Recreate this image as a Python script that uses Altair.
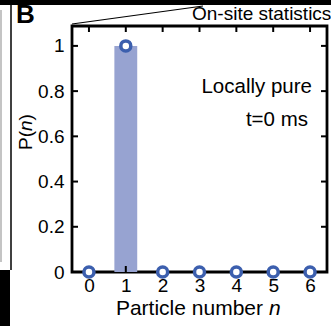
import altair as alt
import pandas as pd

# ---- data ----
n_values = [0, 1, 2, 3, 4, 5, 6]
p_values = [0.0, 1.0, 0.0, 0.0, 0.0, 0.0, 0.0]
y_ticks = [0.2, 0.4, 0.6, 0.8, 1.0]
x_ticks = [0, 1, 2, 3, 4, 5, 6]

df = pd.DataFrame({"n": n_values, "P": p_values})
df_yt = pd.DataFrame({"t": y_ticks})
df_xt = pd.DataFrame({"t": x_ticks})
one = pd.DataFrame({"a": [0]})

W, H = 255, 246
XD = [-0.46, 6.46]
YD = [0, 1.088]
FONT = "Liberation Sans"
BAR_HALF = 0.31

xs = alt.Scale(domain=XD, nice=False, zero=False)
ys = alt.Scale(domain=YD, nice=False, zero=False)

base = alt.Chart(df)

bars = base.transform_calculate(
    lo="datum.n - %f" % BAR_HALF, hi="datum.n + %f" % BAR_HALF
).mark_bar(color="#97a3d1").encode(
    x=alt.X("lo:Q", scale=xs, axis=alt.Axis(
        values=x_ticks, format="d", title=None, labelFont=FONT, labelFontSize=19,
        labelColor="black", labelPadding=4, ticks=False, domain=False, grid=False)),
    x2="hi:Q",
    y=alt.Y("P:Q", scale=ys, axis=alt.Axis(
        values=[0, 0.2, 0.4, 0.6, 0.8, 1.0], title=None, labelFont=FONT,
        labelFontSize=19, labelColor="black", labelPadding=8, ticks=False,
        domain=False, grid=False,
        labelExpr="datum.value == 0 ? '0' : datum.value == 1 ? '1' : format(datum.value, '.1f')")),
    y2=alt.datum(0),
)

# inward ticks
tk = dict(color="black", strokeWidth=2)
left_t = alt.Chart(df_yt).mark_rule(**tk).encode(
    y=alt.Y("t:Q", scale=ys), x=alt.value(0), x2=alt.value(6))
right_t = alt.Chart(df_yt).mark_rule(**tk).encode(
    y=alt.Y("t:Q", scale=ys), x=alt.value(W), x2=alt.value(W - 6))
top_t = alt.Chart(df_xt).mark_rule(**tk).encode(
    x=alt.X("t:Q", scale=xs), y=alt.value(0), y2=alt.value(6))
bot_t = alt.Chart(df_xt).mark_rule(**tk).encode(
    x=alt.X("t:Q", scale=xs), y=alt.value(H), y2=alt.value(H - 6))

points = base.mark_point(
    shape="circle", filled=False, fill="white", fillOpacity=1,
    stroke="#3c5fae", strokeWidth=3.5, size=100, opacity=1
).encode(x=alt.X("n:Q", scale=xs), y=alt.Y("P:Q", scale=ys))

# annotations
def txt(s, x, y, size, align="left", baseline="middle", style="normal",
        weight="normal", angle=0):
    kw = dict(text=s, font=FONT, fontSize=size, align=align, baseline=baseline,
              fontStyle=style, fontWeight=weight, color="black")
    if angle:
        kw["angle"] = angle
    return alt.Chart(one).mark_text(**kw).encode(x=alt.value(x), y=alt.value(y))

locally = txt("Locally pure", 240, 61, 20.5, align="right")
tms = txt("t=0 ms", 236, 94, 20.5, align="right")
xlab1 = txt("Particle number", 191, 283, 21, align="right")
xlab2 = txt("n", 197, 283, 21, align="left", style="italic")
ylab1 = txt("P(", -40, 124, 19, align="left", baseline="alphabetic", angle=270)
ylab2 = txt("n", -40, 105, 19, align="left", baseline="alphabetic", angle=270, style="italic")
ylab3 = txt(")", -40, 94.5, 19, align="left", baseline="alphabetic", angle=270)
blabel = txt("B", -56, -3, 26, align="left", baseline="alphabetic", weight="bold")
onsite = txt("On-site statistics", 120, -6, 19, align="left", baseline="alphabetic")

topband = alt.Chart(one).mark_rect(color="black").encode(
    x=alt.value(-72), x2=alt.value(259), y=alt.value(-26), y2=alt.value(-21))
vline = alt.Chart(one).mark_rule(color="black", strokeWidth=1.5).encode(
    x=alt.value(-61), y=alt.value(-22), y2=alt.value(244))
block = alt.Chart(one).mark_rect(color="black").encode(
    x=alt.value(-72), x2=alt.value(-62), y=alt.value(244), y2=alt.value(300))
gline = alt.Chart(one).mark_rule(color="#b0b0b0", strokeWidth=1.5).encode(
    x=alt.value(-71), y=alt.value(-16), y2=alt.value(236))
diag = alt.Chart(one).mark_rule(color="black", strokeWidth=1.2).encode(
    x=alt.value(0), y=alt.value(-2), x2=alt.value(131), y2=alt.value(-20))

chart = alt.layer(
    bars, left_t, right_t, top_t, bot_t, points,
    locally, tms, xlab1, xlab2, ylab1, ylab2, ylab3, blabel, onsite,
    topband, vline, block, gline, diag
).resolve_scale(x="shared", y="shared").properties(
    width=W, height=H,
    autosize=alt.AutoSizeParams(type="none"),
    padding={"left": 72, "top": 26, "right": 4, "bottom": 54},
    background="white",
).configure_view(stroke="black", strokeWidth=2.8)

chart.save("out.html", embed_options={"renderer": "svg", "actions": False})
